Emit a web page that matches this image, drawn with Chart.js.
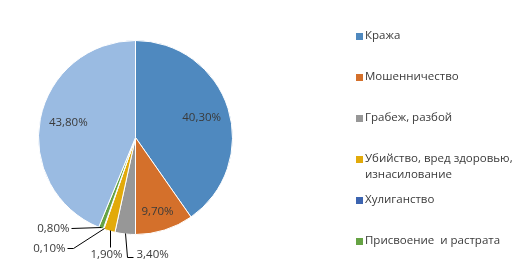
<!DOCTYPE html>
<html><head><meta charset="utf-8">
<script src="https://cdn.jsdelivr.net/npm/chart.js@4/dist/chart.umd.min.js"></script>
<style>html,body{margin:0;padding:0;background:#fff}#wrap{width:518px;height:268px;position:relative}</style>
</head><body><div id="wrap"><canvas id="c" width="518" height="268"></canvas></div>
<script>
const categories = ["Кража","Мошенничество","Грабеж, разбой","Убийство, вред здоровью, изнасилование","Хулиганство","Присвоение и растрата","Прочие"];
const legendLines = [["Кража"],["Мошенничество"],["Грабеж, разбой"],["Убийство, вред здоровью,","изнасилование"],["Хулиганство"],["Присвоение  и растрата"]];
const values = [40.3, 9.7, 3.4, 1.9, 0.1, 0.8, 43.8];
const labels = ["40,30%","9,70%","3,40%","1,90%","0,10%","0,80%","43,80%"];
const colors = ["#4F89BF","#D4702B","#979797","#E2AA0A","#3C64B0","#66A344","#9ABBE2"];

const FONT = '11.5px "Open Sans", sans-serif';
const TXT = '#3a3a3a';

const labelPlugin = {
  id:'labels',
  afterDatasetsDraw(chart){
    const ctx = chart.ctx;
    const meta = chart.getDatasetMeta(0);
    ctx.save();
    ctx.font = FONT;
    ctx.fillStyle = TXT;
    ctx.textBaseline = 'middle';
    ctx.strokeStyle = '#000';
    ctx.lineWidth = 1;
    meta.data.forEach((arc,i)=>{
      const a = (arc.startAngle+arc.endAngle)/2;
      const cx = arc.x, cy = arc.y, r = arc.outerRadius;
      const inside = {0:[0.715,0,1],1:[0.79,-1,1],6:[0.706,0,-2]};
      if (inside[i]) {
        const [f,dx,dy] = inside[i];
        const px = cx + Math.cos(a)*r*f, py = cy + Math.sin(a)*r*f;
        ctx.textAlign='center';
        ctx.fillText(labels[i], px+dx, py+dy);
        return;
      }
      const ex = Math.round(cx + Math.cos(a)*(r-1))+0.5, ey = Math.round(cy + Math.sin(a)*(r-1))+0.5;
      ctx.beginPath();
      if (i===2){ // 3,40%
        ctx.moveTo(ex,ey); ctx.lineTo(ex+2,ey+24); ctx.lineTo(ex+8,ey+24); ctx.stroke();
        ctx.textAlign='left'; ctx.fillText(labels[i], ex+11, ey+21);
      } else if (i===3){ // 1,90%
        ctx.moveTo(ex,ey); ctx.lineTo(ex,ey+17); ctx.stroke();
        ctx.textAlign='center'; ctx.fillText(labels[i], ex-4, ey+24);
      } else if (i===4){ // 0,10%
        ctx.moveTo(ex,ey); ctx.lineTo(ex-31,ey+20); ctx.lineTo(ex-37,ey+20); ctx.stroke();
        ctx.textAlign='right'; ctx.fillText(labels[i], ex-39, ey+20);
      } else if (i===5){ // 0,80%
        ctx.moveTo(ex,ey); ctx.lineTo(ex-30,ey+1); ctx.stroke();
        ctx.textAlign='right'; ctx.fillText(labels[i], ex-32, ey+1.5);
      }
    });
    ctx.restore();
  }
};

const legendPlugin = {
  id:'customLegend',
  afterDraw(chart){
    const ctx = chart.ctx;
    ctx.save();
    ctx.font = FONT;
    ctx.textBaseline='middle';
    ctx.textAlign='left';
    legendLines.forEach((lines,i)=>{
      const y = 36 + i*41;
      ctx.fillStyle = colors[i];
      ctx.fillRect(356, y-3, 7, 7);
      ctx.fillStyle = TXT;
      lines.forEach((t,j)=> ctx.fillText(t, 365, y + j*16));
    });
    ctx.restore();
  }
};

new Chart(document.getElementById('c'), {
  type:'pie',
  data:{ labels: categories, datasets:[{ data: values, backgroundColor: colors, borderColor:'#fff', borderWidth:1 }]},
  options:{
    responsive:false, animation:false,
    layout:{ padding:{ left:38, top:40, right:285, bottom:33 } },
    plugins:{ legend:{display:false}, tooltip:{enabled:false} }
  },
  plugins:[labelPlugin, legendPlugin]
});
</script></body></html>
